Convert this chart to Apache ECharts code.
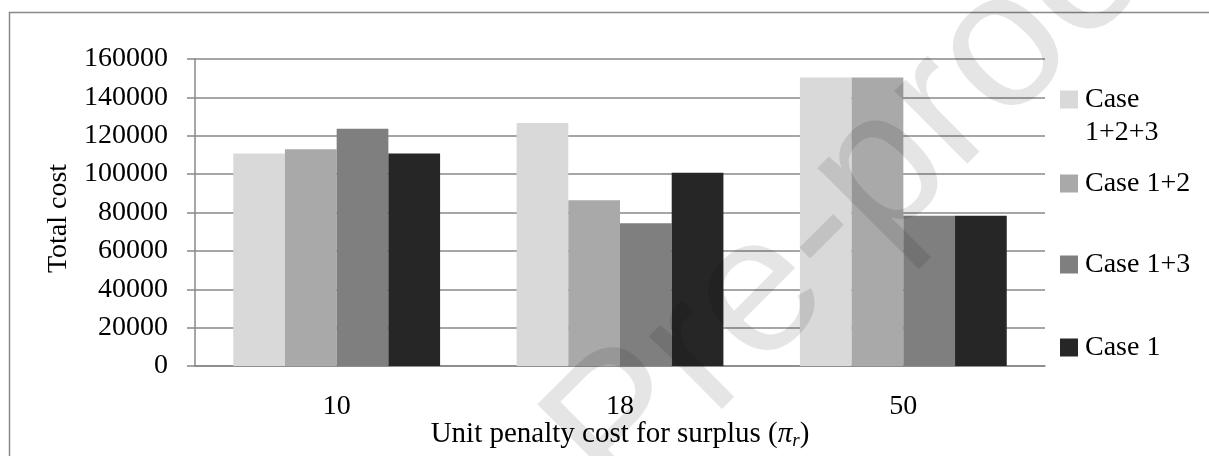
<!DOCTYPE html>
<html>
<head>
<meta charset="utf-8">
<script src="https://cdn.jsdelivr.net/npm/echarts@6/dist/echarts.min.js"></script>
<style>
  html, body { margin: 0; padding: 0; background: #ffffff; }
  #chart { width: 1209px; height: 456px; }
</style>
</head>
<body>
<div id="chart"></div>
<script>
// Unit penalty cost for surplus (x-axis categories)
const penalties = ['10', '18', '50'];

// Total cost for each scenario
const case123 = [110800, 126600, 150300];
const case12  = [112900, 86400, 150300];
const case13  = [123700, 74400, 78300];
const case1   = [110800, 100700, 78300];

const seriesNames  = ['Case 1+2+3', 'Case 1+2', 'Case 1+3', 'Case 1'];
const seriesValues = [case123, case12, case13, case1];
const seriesColors = ['#d9d9d9', '#a9a9a9', '#7f7f7f', '#262626'];

// y-axis scale
const yMin = 0, yMax = 160000, yStep = 20000;

const FONT = '"Liberation Serif", "Times New Roman", serif';
const GRAY = '#888888';

const chart = echarts.init(document.getElementById('chart'), null, { renderer: 'canvas' });

// legend entries, one component each so they can sit at fixed heights
const legendTops = [50, 167, 248, 331];
const legends = seriesNames.map((name, i) => {
  const twoLine = i === 0;
  return {
    data: [name],
    orient: 'vertical',
    left: 1060,
    top: legendTops[i],
    padding: 0,
    icon: 'rect',
    itemWidth: 18,
    itemHeight: 18,
    selectedMode: false,
    // the long name wraps; a blank leading line keeps "Case" level with the swatch
    formatter: twoLine ? ' \nCase\n1+2+3' : '{name}',
    textStyle: {
      fontFamily: FONT,
      fontSize: 28,
      color: '#000',
      lineHeight: 33,
      padding: [0, 0, 0, 2]
    }
  };
});

const option = {
  backgroundColor: '#ffffff',
  animation: false,
  grid: {
    left: 195, right: 164, top: 59, bottom: 90,
    containLabel: false,
    outerBoundsMode: 'none'
  },
  legend: legends,
  xAxis: {
    type: 'category',
    data: penalties,
    axisLine: { show: true, lineStyle: { color: GRAY, width: 1.5 } },
    axisTick: { show: false },
    axisLabel: { fontFamily: FONT, fontSize: 28, color: '#000', margin: 27 },
    name: 'Unit penalty cost for surplus ({i|π}{s|r})',
    nameLocation: 'middle',
    nameGap: 52,
    nameMoveOverlap: false,
    nameTextStyle: {
      fontFamily: FONT, fontSize: 29, color: '#000', lineHeight: 32,
      rich: {
        i: { fontFamily: FONT, fontSize: 29, fontStyle: 'italic', color: '#000' },
        s: { fontFamily: FONT, fontSize: 19, fontStyle: 'italic', color: '#000', verticalAlign: 'bottom', lineHeight: 16 }
      }
    }
  },
  yAxis: {
    type: 'value',
    min: yMin,
    max: yMax,
    interval: yStep,
    axisLine: { show: true, lineStyle: { color: GRAY, width: 1.5 } },
    axisTick: { show: true, length: 8, lineStyle: { color: GRAY, width: 1.5 } },
    axisLabel: {
      fontFamily: FONT, fontSize: 28, color: '#000', margin: 27,
      formatter: (v) => String(v)
    },
    splitLine: { show: true, lineStyle: { color: GRAY, width: 1.5 } },
    name: 'Total cost',
    nameLocation: 'middle',
    nameRotate: 90,
    nameGap: 122,
    nameMoveOverlap: false,
    nameTextStyle: { fontFamily: FONT, fontSize: 28, color: '#000', padding: [0, 12, 0, 0] }
  },
  series: seriesNames.map((name, i) => ({
    name,
    type: 'bar',
    data: seriesValues[i],
    barGap: '0%',
    barCategoryGap: '27%',
    itemStyle: { color: seriesColors[i] }
  })),
  graphic: [
    // outer frame (left and top edges visible)
    {
      type: 'rect',
      left: 7, top: 10,
      shape: { x: 0, y: 0, width: 1215, height: 470 },
      style: { fill: 'none', stroke: GRAY, lineWidth: 1.5 },
      silent: true,
      z: 0
    },
    // Pre-proof watermark
    {
      type: 'text',
      x: 870, y: 185,
      rotation: Math.PI / 4,
      silent: true,
      z: 100,
      style: {
        text: 'Pre-proof',
        fontFamily: '"Liberation Sans", Arial, sans-serif',
        fontSize: 195,
        fill: 'rgba(0,0,0,0.1)',
        textAlign: 'center',
        textVerticalAlign: 'middle'
      }
    }
  ]
};

chart.setOption(option);
</script>
</body>
</html>
